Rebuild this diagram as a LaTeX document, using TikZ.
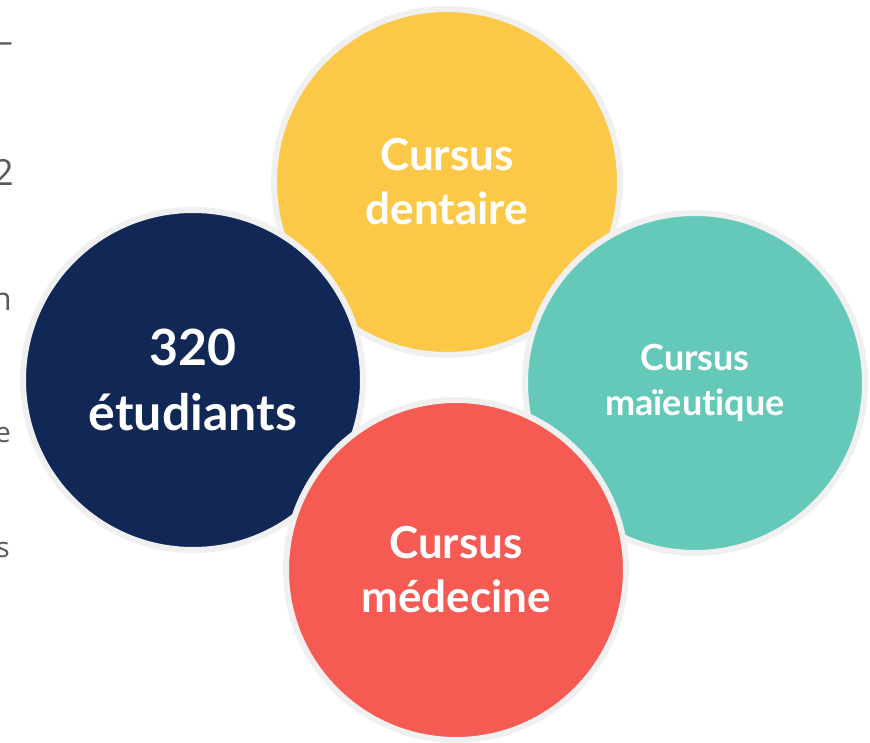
\documentclass[tikz,border=0pt]{standalone}
\usepackage{fontspec}
\setmainfont{Lato}[Ligatures={TeX,NoCommon}]
\newfontfamily\sidefont{Open Sans}
\definecolor{cyellow}{HTML}{FCC847}
\definecolor{cnavy}{HTML}{112755}
\definecolor{cteal}{HTML}{65C9B9}
\definecolor{cred}{HTML}{F55A53}
\definecolor{ringgray}{HTML}{F0F0F0}
\definecolor{sidegray}{HTML}{595959}
\begin{document}
\begin{tikzpicture}[x=1pt,y=-1pt,
  bubble/.style={circle, draw=ringgray, line width=6pt, inner sep=0pt, text=white, align=center},
  bigtext/.style={font=\fontsize{44}{54}\selectfont\bfseries},
  hugetext/.style={font=\fontsize{50}{65}\selectfont\bfseries},
  smalltext/.style={font=\fontsize{36}{45}\selectfont\bfseries},
  side/.style={anchor=base east, text=sidegray, inner sep=0pt}]
\useasboundingbox (0,0) rectangle (870,743);
\clip (0,0) rectangle (870,743);
\fill[white] (0,0) rectangle (870,743);
% side fragments
\node[side, font=\sidefont\fontsize{32}{32}\selectfont] (f1) at (13,53) {–};
\node[side, font=\sidefont\fontsize{36}{36}\selectfont] (f2) at (14,186) {2};
\node[side, font=\sidefont\fontsize{32}{32}\selectfont] (f3) at (12,311) {n};
\node[side, font=\sidefont\fontsize{28}{28}\selectfont] (f4) at (11,442) {e};
\node[side, font=\sidefont\fontsize{28}{28}\selectfont] (f5) at (10,557) {s};
% bubbles
\node[bubble, fill=cyellow, minimum size=346pt, bigtext] (dent) at (447,182) {Cursus\\dentaire};
\node[bubble, fill=cnavy, minimum size=340pt, hugetext] (etu) at (193,380) {320\\étudiants};
\node[bubble, fill=cteal, minimum size=340pt, smalltext] (mai) at (695,383) {Cursus\\maïeutique};
\node[bubble, fill=cred, minimum size=340pt, bigtext] (med) at (456,570) {Cursus\\médecine};
\end{tikzpicture}
\end{document}
